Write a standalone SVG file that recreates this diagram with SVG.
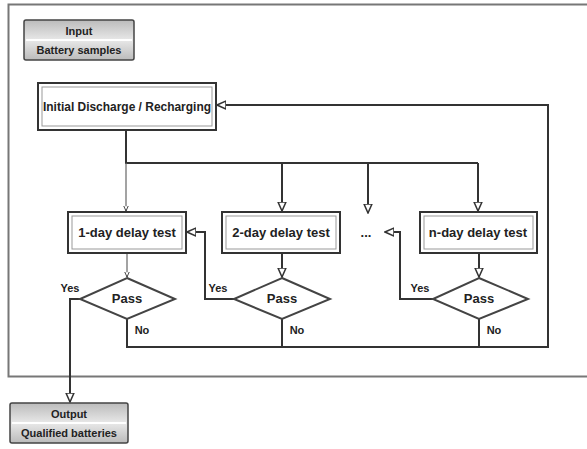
<svg xmlns="http://www.w3.org/2000/svg" width="587" height="449" viewBox="0 0 587 449">
<style>
text{font-family:"Liberation Sans",Arial,sans-serif;font-weight:bold;fill:#222}
.lbl{font-size:11px}
.big{font-size:13px}
.box{fill:#fff;stroke:#333;stroke-width:2}
.inner{fill:none;stroke:#999;stroke-width:1}
.dia{fill:#fff;stroke:#444;stroke-width:2}
.cx{fill:none;stroke:#333;stroke-width:2}
.thin{fill:none;stroke:#666;stroke-width:1.2}
.term{fill:url(#g);stroke:#444;stroke-width:1.5}
</style>
<defs>
<linearGradient id="g" x1="0" y1="0" x2="0" y2="1">
<stop offset="0" stop-color="#bbb"/><stop offset="0.5" stop-color="#e8e8e8"/><stop offset="1" stop-color="#bbb"/>
</linearGradient>
<marker id="a" viewBox="0 0 10 10" refX="9" refY="5" markerWidth="5" markerHeight="5" orient="auto-start-reverse">
<path d="M0,1 L9,5 L0,9 z" fill="#fff" stroke="#333" stroke-width="1.5"/>
</marker>
</defs>
<rect x="8.5" y="4.5" width="600" height="372" fill="none" stroke="#777" stroke-width="2"/>

<g id="connectors">
<path class="cx" d="M126,131 V163 H478"/>
<path class="thin" d="M126,163 V211" marker-end="url(#a)"/>
<path class="cx" d="M282,163 V211" marker-end="url(#a)"/>
<path class="cx" d="M368,163 V213" marker-end="url(#a)"/>
<path class="cx" d="M478,163 V211" marker-end="url(#a)"/>
<path class="thin" d="M127,254 V277" marker-end="url(#a)"/>
<path class="cx" d="M282,254 V277" marker-end="url(#a)"/>
<path class="cx" d="M479,254 V277" marker-end="url(#a)"/>
<path class="cx" d="M80,299 H70 V402" marker-end="url(#a)"/>
<path class="cx" d="M234,299 H205 V232 H187" marker-end="url(#a)"/>
<path class="cx" d="M433,299 H400 V232 H385" marker-end="url(#a)"/>
<path class="cx" d="M127,319 V347 H548 V105 H217" marker-end="url(#a)"/>
<path class="cx" d="M282,319 V347"/>
<path class="cx" d="M479,319 V347"/>
</g>

<g id="start">
<rect class="term" x="24" y="20" width="110" height="40" rx="2"/>
<line x1="26" y1="40" x2="132" y2="40" stroke="#fff" stroke-width="2"/>
<text class="lbl" x="79" y="35" text-anchor="middle">Input</text>
<text class="lbl" x="79" y="54" text-anchor="middle">Battery samples</text>
</g>

<g id="initial">
<rect class="box" x="38" y="83" width="178" height="47"/>
<rect class="inner" x="42" y="87" width="170" height="39"/>
<text x="127" y="111" font-size="12" text-anchor="middle" textLength="168" lengthAdjust="spacingAndGlyphs">Initial Discharge / Recharging</text>
</g>

<g id="test1">
<rect class="box" x="68" y="212" width="118" height="41"/>
<rect class="inner" x="72" y="216" width="110" height="33"/>
<text class="big" x="127" y="237" text-anchor="middle">1-day delay test</text>
</g>
<g id="test2">
<rect class="box" x="222" y="212" width="118" height="41"/>
<rect class="inner" x="226" y="216" width="110" height="33"/>
<text class="big" x="281" y="237" text-anchor="middle">2-day delay test</text>
</g>
<g id="dots">
<text class="big" x="366" y="237" text-anchor="middle">...</text>
</g>
<g id="test3">
<rect class="box" x="420" y="212" width="117" height="41"/>
<rect class="inner" x="424" y="216" width="109" height="33"/>
<text class="big" x="478" y="237" text-anchor="middle">n-day delay test</text>
</g>

<g id="pass1">
<polygon class="dia" points="127,278 175,299 127,319 80,299"/>
<text class="big" x="127" y="303" text-anchor="middle">Pass</text>
<text class="lbl" x="70" y="292" text-anchor="middle">Yes</text>
<text class="lbl" x="142" y="334" text-anchor="middle">No</text>
</g>
<g id="pass2">
<polygon class="dia" points="282,278 330,299 282,319 234,299"/>
<text class="big" x="282" y="303" text-anchor="middle">Pass</text>
<text class="lbl" x="218" y="292" text-anchor="middle">Yes</text>
<text class="lbl" x="297" y="334" text-anchor="middle">No</text>
</g>
<g id="pass3">
<polygon class="dia" points="479,278 528,299 479,319 433,299"/>
<text class="big" x="479" y="303" text-anchor="middle">Pass</text>
<text class="lbl" x="420" y="292" text-anchor="middle">Yes</text>
<text class="lbl" x="494" y="334" text-anchor="middle">No</text>
</g>

<g id="end">
<rect class="term" x="10" y="403" width="118" height="40" rx="2"/>
<line x1="12" y1="423" x2="126" y2="423" stroke="#fff" stroke-width="2"/>
<text class="lbl" x="69" y="418" text-anchor="middle">Output</text>
<text class="lbl" x="69" y="437" text-anchor="middle">Qualified batteries</text>
</g>
</svg>
